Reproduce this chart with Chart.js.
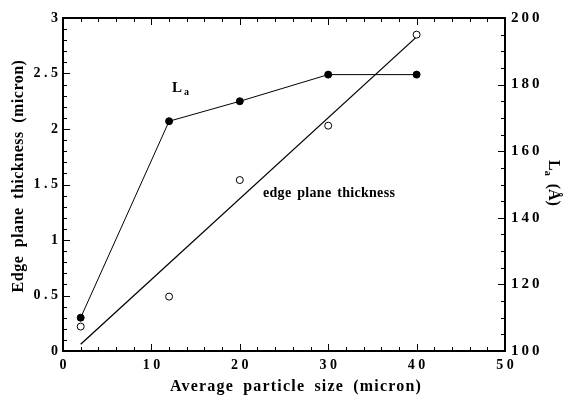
<!DOCTYPE html>
<html>
<head>
<meta charset="utf-8">
<script src="https://cdn.jsdelivr.net/npm/chart.js@4/dist/chart.umd.min.js"></script>
<style>
  html, body { margin: 0; padding: 0; background: #fff; }
  #wrap { width: 570px; height: 399px; }
</style>
</head>
<body>
<div id="wrap"><canvas id="chart" width="570" height="399"></canvas></div>
<script>
// values
const particleSizes = [2, 12, 20, 30, 40];
const laValues = [110, 169, 175, 183, 183];
const edgeValues = [0.22, 0.49, 1.54, 2.03, 2.85];
const fitX = [2, 40];
const fitY = [0.06, 2.83];

const xTicks = [0, 10, 20, 30, 40, 50];
const leftTicks = [0, 0.5, 1, 1.5, 2, 2.5, 3];
const rightTicks = [100, 120, 140, 160, 180, 200];

const SERIF = '"Liberation Serif", "Times New Roman", serif';

function spaced(v) {
  return String(v).split("").join(" ");
}

function toPoints(xs, ys) {
  return xs.map((x, i) => ({ x: x, y: ys[i] }));
}

function drawText(ctx, text, x, y, font, opts) {
  opts = opts || {};
  ctx.save();
  ctx.font = font;
  ctx.fillStyle = "#000";
  ctx.textBaseline = opts.baseline || "alphabetic";
  ctx.textAlign = opts.align || "left";
  if (opts.letter) ctx.letterSpacing = opts.letter;
  if (opts.word) ctx.wordSpacing = opts.word;
  ctx.translate(x, y);
  if (opts.rotate) ctx.rotate(opts.rotate);
  ctx.fillText(text, 0, 0);
  ctx.restore();
}

// frame, inward tick marks and the text labels
const decorations = {
  id: "decorations",
  afterDraw(chart) {
    const ctx = chart.ctx;
    const a = chart.chartArea;
    const sx = chart.scales.x, sy = chart.scales.y, sy1 = chart.scales.y1;

    ctx.save();
    ctx.strokeStyle = "#000";
    ctx.lineWidth = 1;
    ctx.beginPath();
    // x ticks, bottom and top
    for (let i = 0; i <= 25; i++) {
      const v = i * 2;
      const px = Math.round(sx.getPixelForValue(v)) + 0.5;
      const len = i % 5 === 0 ? 7 : 4;
      ctx.moveTo(px, a.bottom);
      ctx.lineTo(px, a.bottom - len);
      ctx.moveTo(px, a.top);
      ctx.lineTo(px, a.top + len);
    }
    // left ticks
    for (let i = 0; i <= 30; i++) {
      const py = Math.round(sy.getPixelForValue(i / 10)) + 0.5;
      const len = i % 5 === 0 ? 7 : 4;
      ctx.moveTo(a.left, py);
      ctx.lineTo(a.left + len, py);
    }
    // right ticks
    for (let i = 0; i <= 20; i++) {
      const py = Math.round(sy1.getPixelForValue(100 + i * 5)) + 0.5;
      const len = i % 4 === 0 ? 7 : 4;
      ctx.moveTo(a.right, py);
      ctx.lineTo(a.right - len, py);
    }
    ctx.stroke();

    ctx.lineWidth = 2;
    ctx.strokeRect(a.left, a.top, a.right - a.left, a.bottom - a.top);
    ctx.restore();

    // axis titles
    drawText(ctx, "Edge plane thickness (micron)", 19, 176,
      "bold 16px " + SERIF, { align: "center", baseline: "middle", rotate: -Math.PI / 2, letter: "0.5px", word: "4px" });
    drawText(ctx, "Average particle size (micron)", 296, 387,
      "bold 16px " + SERIF, { align: "center", baseline: "middle", letter: "1.2px", word: "4px" });

    // right title: L_a (Å), rotated clockwise
    ctx.save();
    ctx.translate(553, 183);
    ctx.rotate(Math.PI / 2);
    ctx.fillStyle = "#000";
    ctx.textBaseline = "middle";
    ctx.font = "bold 16px " + SERIF;
    const wL = ctx.measureText("L").width;
    const wRest = ctx.measureText("  (Å)").width;
    ctx.font = "bold 10px " + SERIF;
    const wA = ctx.measureText("a").width;
    const x0 = -(wL + wA + wRest) / 2;
    ctx.font = "bold 16px " + SERIF;
    ctx.fillText("L", x0, 0);
    ctx.font = "bold 10px " + SERIF;
    ctx.fillText("a", x0 + wL, 5);
    ctx.font = "bold 16px " + SERIF;
    ctx.fillText("  (Å)", x0 + wL + wA, 0);
    ctx.restore();

    // in-plot labels
    drawText(ctx, "L", 172, 92, "bold 15px " + SERIF);
    drawText(ctx, "a", 184, 95, "bold 10px " + SERIF);
    drawText(ctx, "edge plane thickness", 263, 197, "bold 14px " + SERIF, { letter: "0.3px", word: "2px" });
  }
};

const tickFont = { family: SERIF, size: 14, weight: "bold" };

new Chart(document.getElementById("chart"), {
  type: "scatter",
  data: {
    datasets: [
      {
        label: "La",
        data: toPoints(particleSizes, laValues),
        yAxisID: "y1",
        showLine: true,
        borderColor: "#000",
        borderWidth: 1,
        pointRadius: 3.5,
        pointBackgroundColor: "#000",
        pointBorderColor: "#000",
      },
      {
        label: "edge plane thickness",
        data: toPoints(particleSizes, edgeValues),
        yAxisID: "y",
        showLine: false,
        pointRadius: 3.5,
        pointBorderWidth: 1,
        pointBackgroundColor: "#fff",
        pointBorderColor: "#000",
      },
      {
        label: "fit",
        data: toPoints(fitX, fitY),
        yAxisID: "y",
        showLine: true,
        borderColor: "#000",
        borderWidth: 1.3,
        pointRadius: 0,
      },
    ],
  },
  options: {
    responsive: false,
    animation: false,
    layout: { padding: { top: 18, left: 0, right: 0, bottom: 0 } },
    plugins: { legend: { display: false }, tooltip: { enabled: false } },
    scales: {
      x: {
        type: "linear",
        min: 0,
        max: 50,
        afterBuildTicks: (s) => { s.ticks = xTicks.map((v) => ({ value: v })); },
        afterFit: (s) => { s.height = 48; },
        grid: { display: false, drawTicks: false },
        border: { display: false },
        ticks: { color: "#000", font: tickFont, padding: 6, maxRotation: 0, callback: spaced },
      },
      y: {
        position: "left",
        min: 0,
        max: 3,
        afterBuildTicks: (s) => { s.ticks = leftTicks.map((v) => ({ value: v })); },
        afterFit: (s) => { s.width = 63; },
        grid: { display: false, drawTicks: false },
        border: { display: false },
        ticks: { color: "#000", font: tickFont, padding: 5, callback: spaced },
      },
      y1: {
        position: "right",
        min: 100,
        max: 200,
        afterBuildTicks: (s) => { s.ticks = rightTicks.map((v) => ({ value: v })); },
        afterFit: (s) => { s.width = 65; },
        grid: { display: false, drawTicks: false },
        border: { display: false },
        ticks: { color: "#000", font: { family: SERIF, size: 15, weight: "bold" }, padding: 6, callback: (v) => String(v).split("").join("\u2009") },
      },
    },
  },
  plugins: [decorations],
});
</script>
</body>
</html>
